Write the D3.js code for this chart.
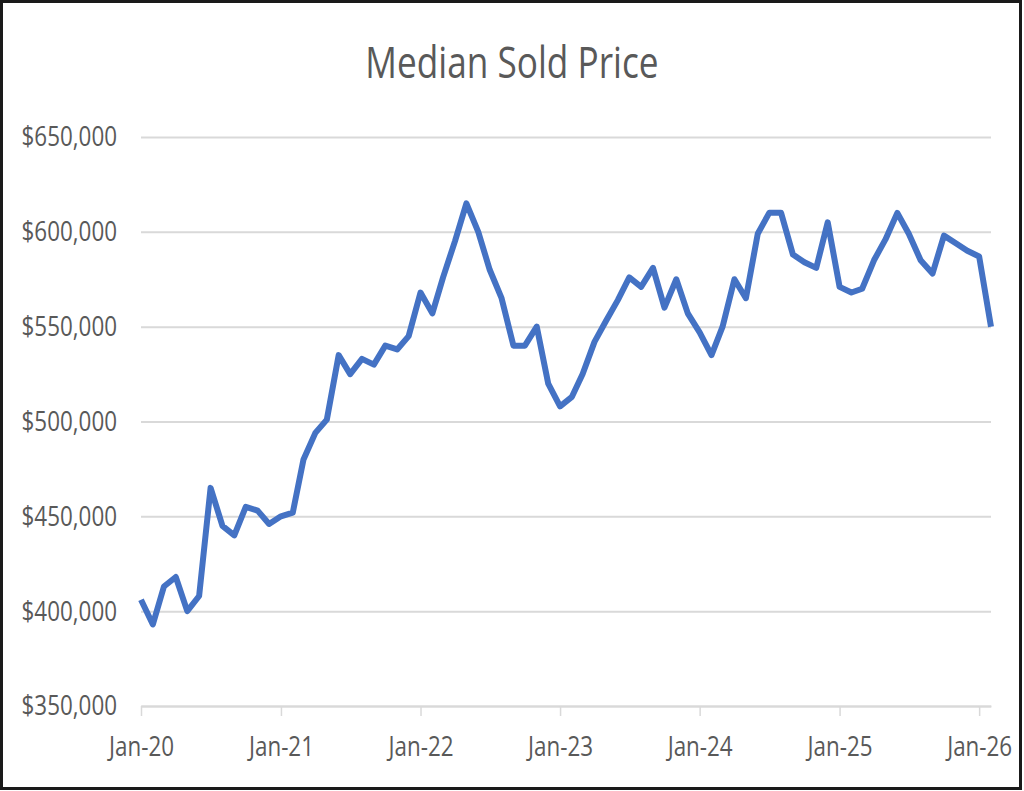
<!DOCTYPE html>
<html>
<head>
<meta charset="utf-8">
<script src="https://cdn.jsdelivr.net/npm/d3@7/dist/d3.min.js"></script>
<style>
  html, body { margin: 0; padding: 0; background: #fff; }
  svg { display: block; }
  text { font-family: "Open Sans", "Liberation Sans", sans-serif; fill: #595959; }
</style>
</head>
<body>
<div id="chart"></div>
<script>
// monthly median sold price, Jan-20 .. Feb-26
const months = [
  "2020-01", "2020-02", "2020-03", "2020-04", "2020-05", "2020-06",
  "2020-07", "2020-08", "2020-09", "2020-10", "2020-11", "2020-12",
  "2021-01", "2021-02", "2021-03", "2021-04", "2021-05", "2021-06",
  "2021-07", "2021-08", "2021-09", "2021-10", "2021-11", "2021-12",
  "2022-01", "2022-02", "2022-03", "2022-04", "2022-05", "2022-06",
  "2022-07", "2022-08", "2022-09", "2022-10", "2022-11", "2022-12",
  "2023-01", "2023-02", "2023-03", "2023-04", "2023-05", "2023-06",
  "2023-07", "2023-08", "2023-09", "2023-10", "2023-11", "2023-12",
  "2024-01", "2024-02", "2024-03", "2024-04", "2024-05", "2024-06",
  "2024-07", "2024-08", "2024-09", "2024-10", "2024-11", "2024-12",
  "2025-01", "2025-02", "2025-03", "2025-04", "2025-05", "2025-06",
  "2025-07", "2025-08", "2025-09", "2025-10", "2025-11", "2025-12",
  "2026-01", "2026-02"
];

const prices = [
  406000, 393000, 413000, 418000, 400000, 408000,
  465000, 445000, 440000, 455000, 453000, 446000,
  450000, 452000, 480000, 494000, 501000, 535000,
  525000, 533000, 530000, 540000, 538000, 545000,
  568000, 557000, 576000, 595000, 615000, 600000,
  580000, 565000, 540000, 540000, 550000, 520000,
  508000, 513000, 525000, 542000, 553000, 564000,
  576000, 571000, 581000, 560000, 575000, 557000,
  547000, 535000, 550000, 575000, 565000, 599000,
  610000, 610000, 588000, 584000, 581000, 605000,
  571000, 568000, 570000, 585000, 596000, 610000,
  599000, 585000, 578000, 598000, 594000, 590000,
  587000, 550000
];

const yTicks = [350000, 400000, 450000, 500000, 550000, 600000, 650000];
const xTickLabels = ["Jan-20", "Jan-21", "Jan-22", "Jan-23", "Jan-24", "Jan-25", "Jan-26"];
const chartTitle = "Median Sold Price";

const W = 1024;
const H = 791;
const margin = { top: 137, right: 33, bottom: 85, left: 141 };
const squeeze = 0.8; // text in the source looks horizontally narrow

const parseMonth = d3.timeParse("%Y-%m");
const parseLabel = d3.timeParse("%b-%y");
const data = months.map((m, i) => ({ date: parseMonth(m), value: prices[i] }));

const svg = d3.select("#chart").append("svg")
  .attr("width", W)
  .attr("height", H);

svg.append("rect")
  .attr("x", 1.5).attr("y", 1.5)
  .attr("width", W - 5).attr("height", H - 4)
  .attr("fill", "#fff")
  .attr("stroke", "#1a1a1a")
  .attr("stroke-width", 3);

const x = d3.scaleTime()
  .domain(d3.extent(data, (d) => d.date))
  .range([margin.left, W - margin.right]);

const y = d3.scaleLinear()
  .domain([yTicks[0], yTicks[yTicks.length - 1]])
  .range([H - margin.bottom, margin.top]);

// gridlines + labels
const yAxis = svg.append("g")
  .attr("transform", `translate(${margin.left},0)`)
  .call(
    d3.axisLeft(y)
      .tickValues(yTicks)
      .tickFormat(d3.format("$,"))
      .tickSize(-(x.range()[1] - margin.left))
      .tickPadding(24)
  );
yAxis.select(".domain").remove();
yAxis.selectAll(".tick line")
  .attr("stroke", "#d9d9d9")
  .attr("stroke-width", 2);
yAxis.selectAll(".tick text")
  .attr("font-size", 28)
  .attr("fill", "#595959");

const xAxis = svg.append("g")
  .attr("transform", `translate(0,${y(yTicks[0])})`)
  .call(
    d3.axisBottom(x)
      .tickValues(xTickLabels.map(parseLabel))
      .tickFormat(d3.timeFormat("%b-%y"))
      .tickSize(10)
      .tickSizeOuter(0)
      .tickPadding(20)
  );
xAxis.select(".domain")
  .attr("stroke", "#d9d9d9")
  .attr("stroke-width", 2);
xAxis.selectAll(".tick line")
  .attr("stroke", "#d9d9d9")
  .attr("stroke-width", 1.5);
xAxis.selectAll(".tick text")
  .attr("font-size", 28)
  .attr("fill", "#595959");

svg.selectAll("text").attr("font-family", null);

const line = d3.line()
  .x((d) => x(d.date))
  .y((d) => y(d.value));

svg.append("path")
  .datum(data)
  .attr("fill", "none")
  .attr("stroke", "#4472c4")
  .attr("stroke-width", 6)
  .attr("stroke-linejoin", "round")
  .attr("stroke-linecap", "butt")
  .attr("d", line);

svg.append("text")
  .attr("class", "title")
  .attr("x", W / 2)
  .attr("y", 78)
  .attr("text-anchor", "middle")
  .attr("font-size", 44)
  .attr("fill", "#595959")
  .text(chartTitle);

// narrow every label the same way
svg.selectAll("text").each(function squish() {
  const len = this.getComputedTextLength();
  d3.select(this)
    .attr("textLength", len * squeeze)
    .attr("lengthAdjust", "spacingAndGlyphs");
});
</script>
</body>
</html>
